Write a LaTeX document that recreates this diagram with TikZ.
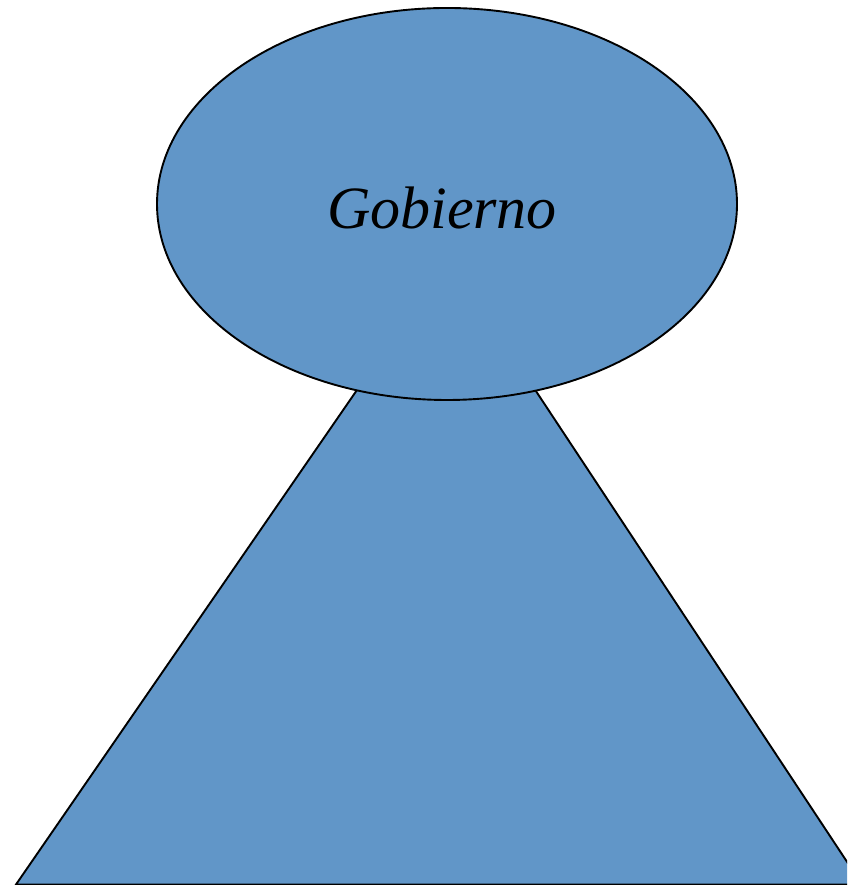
\documentclass[tikz,border=0pt]{standalone}
\usepackage{fontspec}
\setmainfont{Liberation Serif}
\usetikzlibrary{shapes.geometric}
\definecolor{govblue}{RGB}{97,150,200}
\tikzset{
  shapefill/.style={fill=govblue, draw=black, line width=1.9pt, line join=miter},
}
\begin{document}
\begin{tikzpicture}[x=1pt,y=1pt]
\useasboundingbox (0,0) rectangle (847,885);
\begin{scope}
\clip (0,0) rectangle (847,885);
\draw[shapefill] (448,627) -- (16,0.5) -- (862,0.5) -- cycle;
\end{scope}
\draw[shapefill] (447,681) ellipse [x radius=290, y radius=196];
\node (gob) at (442,677) {\fontsize{60}{70}\selectfont\itshape Gobierno};
\end{tikzpicture}
\end{document}
